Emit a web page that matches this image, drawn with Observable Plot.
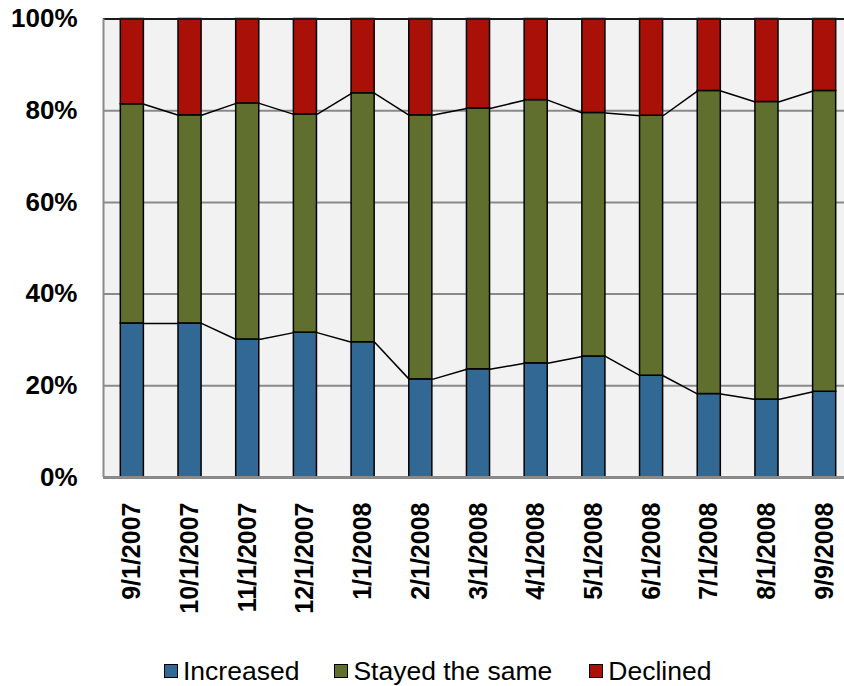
<!DOCTYPE html>
<html><head><meta charset="utf-8">
<script src="https://cdn.jsdelivr.net/npm/d3@7"></script>
<script src="https://cdn.jsdelivr.net/npm/@observablehq/plot@0.6"></script>
<style>
html,body{margin:0;padding:0;background:#fff;overflow:hidden;}
#legend{display:flex;align-items:center;height:42px;padding-left:164px;font-family:"Liberation Sans",Arial,sans-serif;font-size:26.5px;color:#000;}
.item{display:flex;align-items:center;}
.item:nth-child(1){margin-right:35px;}
.item:nth-child(2){margin-right:37px;}
.sw{width:12px;height:12px;border:1.5px solid #000;margin-right:5px;}
</style></head><body>
<div id="chart"></div>
<div id="legend"></div>
<script>
const dates = ["9/1/2007","10/1/2007","11/1/2007","12/1/2007","1/1/2008","2/1/2008","3/1/2008","4/1/2008","5/1/2008","6/1/2008","7/1/2008","8/1/2008","9/9/2008"];
const increased = [33.6, 33.6, 30.1, 31.6, 29.5, 21.4, 23.6, 24.9, 26.4, 22.2, 18.2, 17.0, 18.7];
const stayed    = [47.8, 45.4, 51.5, 47.6, 54.3, 57.6, 56.9, 57.4, 53.1, 56.7, 66.1, 64.9, 65.6];
const declined  = [18.6, 21.0, 18.4, 20.8, 16.2, 21.0, 19.5, 17.7, 20.5, 21.1, 15.7, 18.1, 15.7];
const series = ["Increased", "Stayed the same", "Declined"];
const colors = ["#326894", "#606f2e", "#a81008"];
const yTicks = [0, 20, 40, 60, 80, 100];

const values = [increased, stayed, declined];
const rows = [];
dates.forEach((d, i) => {
  let base = 0;
  series.forEach((s, k) => {
    rows.push({i, date: d, series: s, y1: base, y2: base + values[k][i]});
    base += values[k][i];
  });
});
const incTop = increased;
const midTop = increased.map((v, i) => v + stayed[i]);
const links = [];
for (let i = 0; i < dates.length - 1; i++) {
  links.push({i, a: incTop[i], b: incTop[i + 1]});
  links.push({i, a: midTop[i], b: midTop[i + 1]});
}

const plot = Plot.plot({
  width: 844, height: 650,
  marginLeft: 103, marginRight: 0, marginTop: 18.5, marginBottom: 173,
  style: {fontFamily: "'Liberation Sans', Arial, sans-serif", fontWeight: "bold", color: "#000", background: "#fff", overflow: "visible"},
  x: {domain: [-0.5, dates.length - 0.5], range: [103, 853]},
  y: {domain: [0, 100]},
  color: {domain: series, range: colors},
  marks: [
    Plot.frame({fill: "#f2f2f2", stroke: null}),
    Plot.ruleY([20, 40, 60, 80], {stroke: "#8a8a8a", strokeWidth: 2}),
    Plot.rect(rows, {x1: d => d.i - 0.2, x2: d => d.i + 0.2, y1: "y1", y2: "y2", fill: "series", stroke: "#000", strokeWidth: 1.5}),
    Plot.link(links, {x1: d => d.i + 0.2, x2: d => d.i + 0.8, y1: "a", y2: "b", stroke: "#000", strokeWidth: 1.5}),
    Plot.ruleY([100], {stroke: "#1a1a1a", strokeWidth: 2}),
    Plot.ruleY([0], {stroke: "#8a8a8a", strokeWidth: 3}),
    Plot.ruleX([-0.5], {stroke: "#8a8a8a", strokeWidth: 2}),
    Plot.axisY({ticks: yTicks, tickFormat: d => d + "%", tickSize: 0, tickPadding: 26, fontSize: 26, fontWeight: "bold", label: null}),
    Plot.axisX({ticks: d3.range(dates.length), tickFormat: i => dates[i], tickSize: 0, tickPadding: 25, tickRotate: -90, fontSize: 25, fontWeight: "bold", label: null})
  ]
});
document.getElementById("chart").appendChild(plot);

const legend = document.getElementById("legend");
series.forEach((s, k) => {
  const item = document.createElement("div");
  item.className = "item";
  const sw = document.createElement("span");
  sw.className = "sw";
  sw.style.background = colors[k];
  const t = document.createElement("span");
  t.textContent = s;
  item.appendChild(sw);
  item.appendChild(t);
  legend.appendChild(item);
});
</script>
</body></html>
